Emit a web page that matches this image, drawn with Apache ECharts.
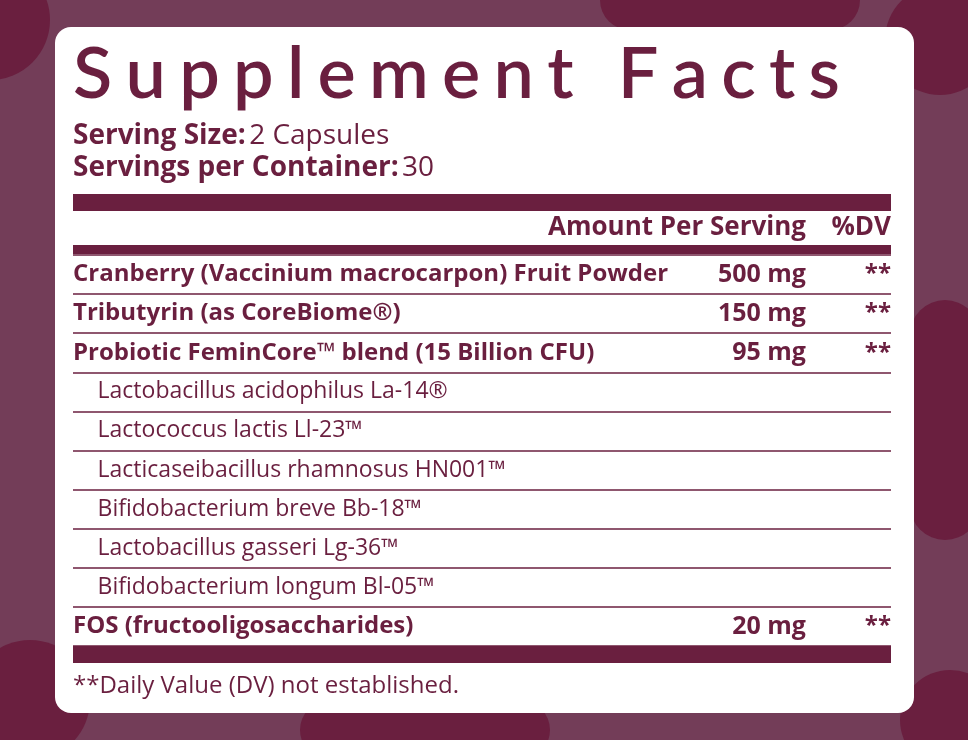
<!DOCTYPE html>
<html><head><meta charset="utf-8">
<script src="https://cdn.jsdelivr.net/npm/echarts@6/dist/echarts.min.js"></script>
<style>html,body{margin:0;padding:0;background:#733d58}#c{width:968px;height:740px}</style>
</head><body><div id="c"></div>
<script>
const titleText = 'Supplement Facts';
const servingSize = '2 Capsules';
const servingsPerContainer = '30';
const ingredients = ['Cranberry (Vaccinium macrocarpon) Fruit Powder','Tributyrin (as CoreBiome®)','Probiotic FeminCore™ blend (15 Billion CFU)','Lactobacillus acidophilus La-14®','Lactococcus lactis Ll-23™','Lacticaseibacillus rhamnosus HN001™','Bifidobacterium breve Bb-18™','Lactobacillus gasseri Lg-36™','Bifidobacterium longum Bl-05™','FOS (fructooligosaccharides)'];
const amounts = ['500 mg','150 mg','95 mg','','','','','','','20 mg'];
const dv = ['**','**','**','','','','','','','**'];
const subItem = [false,false,false,true,true,true,true,true,true,false];
const footnote = '**Daily Value (DV) not established.';

const C = '#6a1f3f';
const chart = echarts.init(document.getElementById('c'));
const cv = document.createElement('canvas').getContext('2d');
const tFont = '600 72px Lato';
cv.font = tFont;
const chars = titleText.split('');
const ws = chars.map(ch => cv.measureText(ch).width);
const gap = (767 - ws.reduce((a,b)=>a+b,0)) / (chars.length - 1);
const titleEls = [];
let x = 73;
chars.forEach((ch,i)=>{ titleEls.push({type:'text',x:x,y:75,style:{text:ch,font:tFont,fill:C,verticalAlign:'middle'}}); x += ws[i] + gap; });

const bgShapes = [
 {type:'circle',shape:{cx:-10,cy:20,r:60}},{type:'rect',shape:{x:20,y:250,width:60,height:200,r:30},rotation:0.3},
 {type:'circle',shape:{cx:940,cy:40,r:55}},{type:'rect',shape:{x:910,y:300,width:70,height:240,r:35}},
 {type:'circle',shape:{cx:30,cy:700,r:60}},{type:'circle',shape:{cx:950,cy:720,r:50}},
 {type:'rect',shape:{x:300,y:700,width:250,height:60,r:30}},{type:'rect',shape:{x:600,y:-30,width:260,height:60,r:30}}
].map(s=>Object.assign(s,{style:{fill:C},z:-1}));

chart.setOption({
  animation:false,
  backgroundColor:'#733d58',
  grid:{left:73,right:77,top:255,height:391},
  xAxis:{type:'value',min:0,max:1,show:false},
  yAxis:{type:'category',data:ingredients,inverse:true,axisLine:{show:false},axisTick:{show:false},axisLabel:{show:false},
    splitLine:{show:true,lineStyle:{color:C,width:1.5}}},
  graphic:[
    ...bgShapes,
    {type:'rect',shape:{x:55,y:27,width:859,height:686,r:16},style:{fill:'#fff'},z:0},
    ...titleEls,
    {type:'text',x:73,y:136,style:{text:'{b|Serving Size:} {n|'+servingSize+'}',rich:{b:{font:'bold 28px "Open Sans"',fill:C},n:{font:'28px "Open Sans"',fill:C}},fill:C,verticalAlign:'middle'}},
    {type:'text',x:73,y:168,style:{text:'{b|Servings per Container:} {n|'+servingsPerContainer+'}',rich:{b:{font:'bold 28px "Open Sans"',fill:C},n:{font:'28px "Open Sans"',fill:C}},fill:C,verticalAlign:'middle'}},
    {type:'rect',shape:{x:73,y:194,width:818,height:17},style:{fill:C},z:10},
    {type:'text',x:806,y:228,style:{text:'Amount Per Serving',font:'bold 26px "Open Sans"',fill:C,align:'right',verticalAlign:'middle'},z:10},
    {type:'text',x:891,y:228,style:{text:'%DV',font:'bold 26px "Open Sans"',fill:C,align:'right',verticalAlign:'middle'},z:10},
    {type:'rect',shape:{x:73,y:245,width:818,height:9},style:{fill:C},z:10},
    {type:'rect',shape:{x:73,y:646,width:818,height:17},style:{fill:C},z:10},
    {type:'text',x:73,y:686,style:{text:footnote,font:'24px "Open Sans"',fill:C,verticalAlign:'middle'},z:10}
  ],
  series:[
    {type:'scatter',symbolSize:0,z:5,itemStyle:{opacity:1},data:ingredients.map((n,i)=>({value:[subItem[i]?0.03:0,i],
      label:{show:true,position:'right',distance:0,formatter:n,fontFamily:'Open Sans',fontSize:subItem[i]?23:24,fontWeight:subItem[i]?'normal':'bold',color:C,letterSpacing:-0.5}}))},
    {type:'scatter',symbolSize:0,z:5,itemStyle:{opacity:1},data:amounts.map((a,i)=>({value:[0.896,i],
      label:{show:!!a,position:'left',distance:0,formatter:a,fontFamily:'Open Sans',fontSize:25,fontWeight:'bold',color:C}}))},
    {type:'scatter',symbolSize:0,z:5,itemStyle:{opacity:1},data:dv.map((d,i)=>({value:[1,i],
      label:{show:!!d,position:'left',distance:0,formatter:d,fontFamily:'Open Sans',fontSize:24,fontWeight:'bold',color:C}}))}
  ]
});
</script></body></html>
